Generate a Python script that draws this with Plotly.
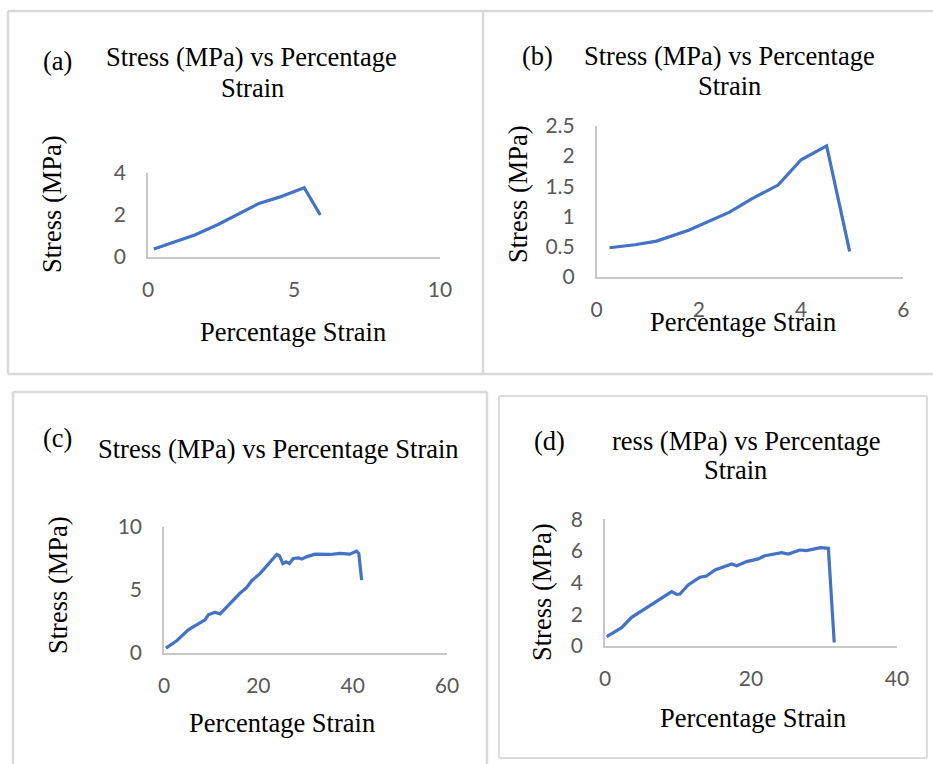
import plotly.graph_objects as go

W, H = 933, 764

# ---------------- data ----------------
strain_a = [0.2, 0.8, 1.6, 2.4, 3.2, 3.8, 4.5, 5.35, 5.9]
stress_a = [0.38, 0.65, 1.05, 1.55, 2.1, 2.55, 2.85, 3.3, 2.0]

strain_b = [0.25, 0.75, 1.17, 1.8, 2.6, 3.05, 3.55, 4.0, 4.5, 4.95]
stress_b = [0.48, 0.53, 0.59, 0.77, 1.07, 1.30, 1.52, 1.94, 2.17, 0.42]

strain_c = [0.4, 2.7, 5.15, 7.3, 8.7, 9.4, 10.8, 11.9, 14.0, 16.1, 17.5, 18.6,
            20.4, 22.5, 23.9, 24.5, 25.2, 25.9, 26.6, 27.4, 28.5, 29.2, 30.2,
            32.0, 35.2, 37.3, 39.4, 40.8, 41.3, 41.9]
stress_c = [0.39, 0.97, 1.84, 2.29, 2.63, 3.03, 3.24, 3.1, 3.95, 4.74, 5.18, 5.74,
            6.32, 7.24, 7.82, 7.71, 7.1, 7.24, 7.1, 7.5, 7.55, 7.45, 7.63,
            7.84, 7.82, 7.9, 7.84, 8.08, 7.9, 5.79]

strain_d = [0.23, 1.37, 2.28, 3.65, 5.03, 6.16, 7.3, 9.13, 9.82, 10.27, 11.4, 13.0,
            13.9, 15.07, 17.35, 18.04, 19.4, 21.0, 21.9, 24.2, 25.1, 26.7, 27.6,
            29.5, 30.6, 31.4]
stress_d = [0.59, 0.9, 1.16, 1.81, 2.23, 2.55, 2.9, 3.43, 3.26, 3.28, 3.85, 4.34,
            4.42, 4.8, 5.18, 5.07, 5.33, 5.5, 5.7, 5.89, 5.81, 6.06, 6.02,
            6.21, 6.17, 0.22]

panel_labels = ["(a)", "(b)", "(c)", "(d)"]
x_ticks = {"a": [0, 5, 10], "b": [0, 2, 4, 6], "c": [0, 20, 40, 60], "d": [0, 20, 40]}
y_ticks = {"a": [0, 2, 4], "b": [0, 0.5, 1, 1.5, 2, 2.5], "c": [0, 5, 10], "d": [0, 2, 4, 6, 8]}

# ---------------- helpers ----------------
def px(x):
    return x / W

def py(y):
    return 1 - y / H

LINE = "#4472C4"
AXC = "#c8c8c8"
TICKC = "#595959"
SERIF = "Liberation Serif, Times New Roman, serif"
SANS = "Lato, Carlito, Calibri, sans-serif"
FS = 26.5

fig = go.Figure()

panels = [
    ("a", strain_a, stress_a, (148, 440), (257, 173), [0, 10], [0, 4]),
    ("b", strain_b, stress_b, (596.7, 903.3), (276.7, 126), [0, 6], [0, 2.5]),
    ("c", strain_c, stress_c, (164, 447), (653, 527), [0, 60], [0, 10]),
    ("d", strain_d, stress_d, (605, 897), (646, 519.3), [0, 40], [0, 8]),
]

layout = {}
for i, (k, xs, ys, xd, yd, xr, yr) in enumerate(panels):
    n = "" if i == 0 else str(i + 1)
    fig.add_trace(go.Scatter(x=xs, y=ys, mode="lines",
                             line=dict(color=LINE, width=3.2),
                             xaxis="x" + n, yaxis="y" + n,
                             showlegend=False, hoverinfo="skip"))
    layout["xaxis" + n] = dict(
        domain=[px(xd[0]), px(xd[1])], range=xr, anchor="y" + n,
        showline=True, linecolor=AXC, linewidth=1.5, showgrid=False, zeroline=False,
        tickmode="array", tickvals=x_ticks[k], ticks="", automargin=False,
        tickfont=dict(family=SANS, size=21, color=TICKC),
        ticklabelstandoff=13, fixedrange=True)
    layout["yaxis" + n] = dict(
        domain=[py(yd[0]), py(yd[1])], range=yr, anchor="x" + n,
        showline=True, linecolor=AXC, linewidth=1.5, showgrid=False, zeroline=False,
        tickmode="array", tickvals=y_ticks[k], ticks="", automargin=False,
        tickfont=dict(family=SANS, size=21, color=TICKC),
        ticklabelstandoff=16, fixedrange=True)

annotations = []

def txt(text, x, y, size=FS, angle=0, xanchor="center"):
    annotations.append(dict(text=text, x=px(x), y=py(y), xref="paper", yref="paper",
                            showarrow=False, xanchor=xanchor, yanchor="middle",
                            textangle=angle,
                            font=dict(family=SERIF, size=size, color="#000000")))

# panel (a)
txt(panel_labels[0], 57, 61)
txt("Stress (MPa) vs Percentage", 251, 57)
txt("Strain", 252, 88)
txt("Stress (MPa)", 52, 204, angle=-90)
txt("Percentage Strain", 293, 332)
# panel (b)
txt(panel_labels[1], 537, 56)
txt("Stress (MPa) vs Percentage", 729, 56)
txt("Strain", 729, 86)
txt("Stress (MPa)", 518, 194, angle=-90)
txt("Percentage Strain", 743, 322)
# panel (c)
txt(panel_labels[2], 57, 438)
txt("Stress (MPa) vs Percentage Strain", 278, 449)
txt("Stress (MPa)", 58, 585, angle=-90)
txt("Percentage Strain", 282, 723)
# panel (d)
txt(panel_labels[3], 549, 441)
txt("ress (MPa) vs Percentage", 610, 441, xanchor="left")
txt("Strain", 735, 470)
txt("Stress (MPa)", 542, 592, angle=-90)
txt("Percentage Strain", 753, 718)

FR = "#d9d9d9"
shapes = []

def seg(x0, y0, x1, y1, w=2.5, c=FR):
    shapes.append(dict(type="line", xref="paper", yref="paper",
                       x0=px(x0), y0=py(y0), x1=px(x1), y1=py(y1),
                       line=dict(color=c, width=w)))

# frame a
seg(8, 11, 483, 11); seg(8, 11, 8, 374); seg(8, 374, 483, 374); seg(483, 11, 483, 374)
# frame b
seg(483, 11, 933, 11); seg(483, 374, 933, 374)
# frame c
seg(13, 392, 487, 392); seg(13, 392, 13, 764); seg(487, 392, 487, 764)
# frame d
seg(499, 396, 927, 396, w=2, c="#dcdcdc"); seg(499, 396, 499, 758, w=2, c="#dcdcdc")
seg(927, 396, 927, 758, w=2, c="#dcdcdc"); seg(499, 758, 927, 758, w=2, c="#dcdcdc")

fig.update_layout(width=W, height=H, margin=dict(l=0, r=0, t=0, b=0, autoexpand=False),
                  paper_bgcolor="white", plot_bgcolor="white",
                  annotations=annotations, shapes=shapes, **layout)

fig.write_html("out.html", config={"displayModeBar": False})
